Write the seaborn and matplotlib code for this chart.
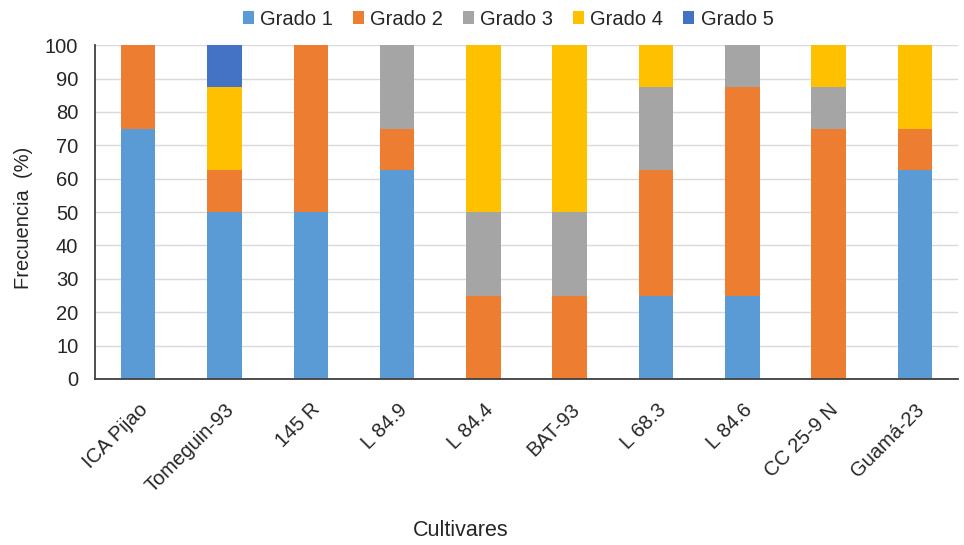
import numpy as np
import pandas as pd
import matplotlib.pyplot as plt
import seaborn as sns

sns.set_style("white")
plt.rcParams["font.family"] = ["Liberation Sans", "DejaVu Sans"]

cultivares = ["ICA Pijao", "Tomeguin-93", "145 R", "L 84.9", "L 84.4",
              "BAT-93", "L 68.3", "L 84.6", "CC 25-9 N", "Guamá-23"]
grado1 = [75, 50, 50, 62.5, 0, 0, 25, 25, 0, 62.5]
grado2 = [25, 12.5, 50, 12.5, 25, 25, 37.5, 62.5, 75, 12.5]
grado3 = [0, 0, 0, 25, 25, 25, 25, 12.5, 12.5, 0]
grado4 = [0, 25, 0, 0, 50, 50, 12.5, 0, 12.5, 25]
grado5 = [0, 12.5, 0, 0, 0, 0, 0, 0, 0, 0]

grados = ["Grado 1", "Grado 2", "Grado 3", "Grado 4", "Grado 5"]
colores = ["#5B9BD5", "#ED7D31", "#A5A5A5", "#FFC000", "#4472C4"]

df = pd.DataFrame({"Cultivar": cultivares, "Grado 1": grado1, "Grado 2": grado2,
                   "Grado 3": grado3, "Grado 4": grado4, "Grado 5": grado5})

fig = plt.figure(figsize=(9.64, 5.45), dpi=100)
ax = fig.add_axes([0.0985, 0.3046, 0.8955, 0.6124])

bottom = np.zeros(len(cultivares))
for g, c in zip(grados, colores):
    sns.barplot(x=df["Cultivar"], y=df[g], bottom=bottom, color=c, width=0.4,
                label=g, ax=ax, linewidth=0, saturation=1)
    bottom = bottom + df[g].values

ax.set_ylim(0, 100)
ax.set_xlim(-0.5, len(cultivares) - 0.5)
ax.set_yticks(range(0, 101, 10))
ax.yaxis.grid(True, color="#D9D9D9", linewidth=1)
ax.set_axisbelow(True)
for s in ["top", "right"]:
    ax.spines[s].set_visible(False)
ax.spines["left"].set_color("#404040")
ax.spines["bottom"].set_color("#404040")
ax.spines["left"].set_linewidth(1.3)
ax.spines["bottom"].set_linewidth(1.3)
ax.tick_params(axis="both", labelsize=14.5, colors="#404040", length=0)
ax.tick_params(axis="y", pad=12)
ax.tick_params(axis="x", pad=15)
plt.setp(ax.get_xticklabels(), rotation=45, ha="right", rotation_mode="anchor")
for lab in ax.get_xticklabels() + ax.get_yticklabels():
    lab.set_color("#262626")

ax.set_ylabel("")
ax.set_xlabel("")
fig.text(0.024, 0.6, "Frecuencia  (%)", ha="center", va="center", rotation=90,
         fontsize=14.5, color="#262626")
fig.text(0.478, 0.027, "Cultivares", ha="center", va="center", fontsize=15.5, color="#262626")

ax.legend(loc="center", bbox_to_anchor=(0.527, 0.965), bbox_transform=fig.transFigure,
          ncol=5, frameon=False, fontsize=14.5, handlelength=0.55, handleheight=0.55,
          handletextpad=0.3, columnspacing=1.0)

fig.savefig("out.png", dpi=100)
